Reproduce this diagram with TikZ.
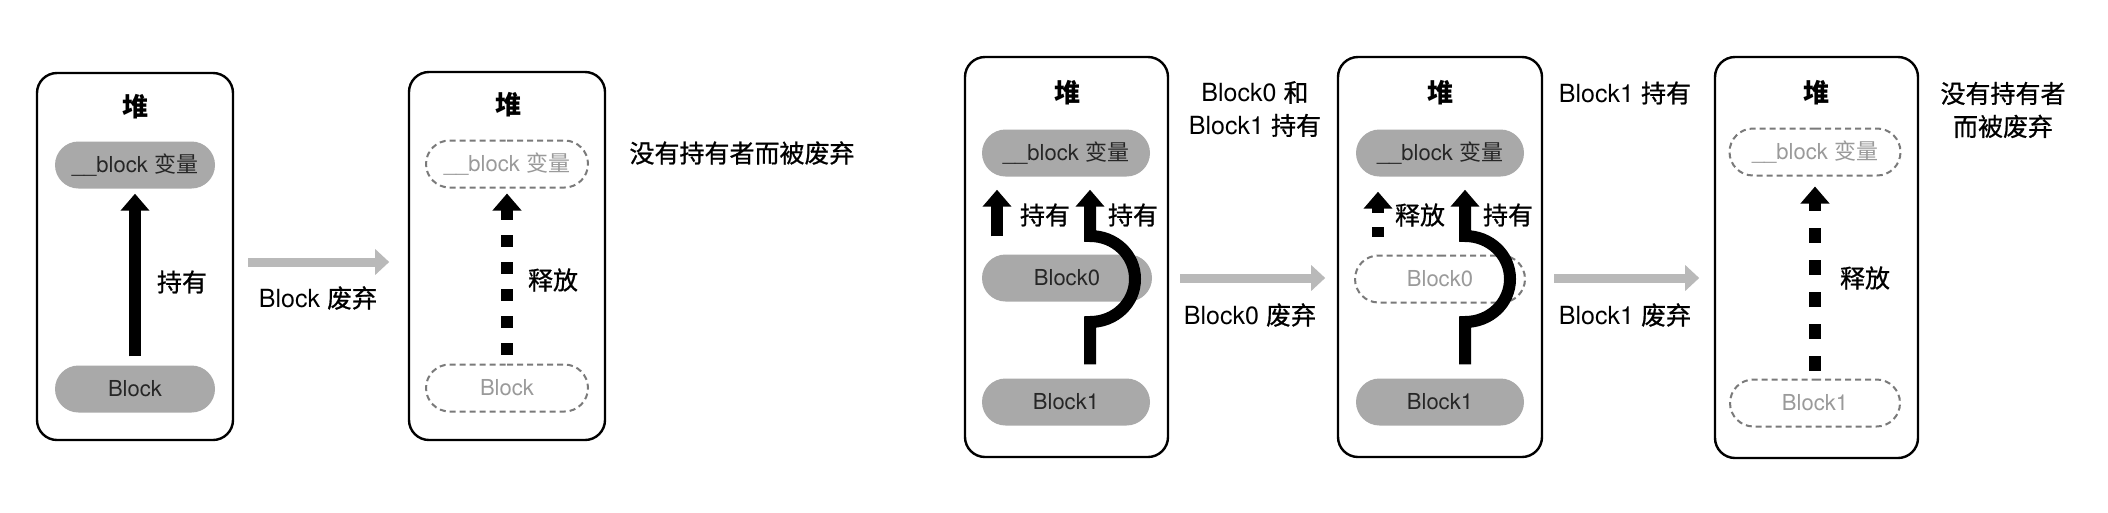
\documentclass[tikz,border=0pt]{standalone}
\usepackage{fontspec}
\setmainfont{TeX Gyre Heros}
\newfontfamily\cjk{Noto Sans CJK SC}[FakeBold=0.8]
\newfontfamily\cjkp{Noto Sans CJK SC}
\usetikzlibrary{arrows.meta,shapes.misc,calc}
\definecolor{pillgray}{HTML}{A9A9A9}
\definecolor{dashgray}{HTML}{7A7A7A}
\definecolor{fadetext}{HTML}{9A9A9A}
\definecolor{transgray}{HTML}{B9B9B9}
\tikzset{
  heap/.style={draw=black, line width=2.4pt, rounded corners=20pt, inner sep=0pt},
  pillbase/.style={rounded rectangle, minimum height=47pt, inner sep=0pt,
    font=\fontsize{22}{24}\selectfont},
  pill/.style={pillbase, fill=pillgray, text=black!85},
  ghost/.style={pillbase, draw=dashgray, line width=2pt, dash pattern=on 6pt off 4pt, text=fadetext},
  heaptitle/.style={font=\cjkp\bfseries\fontsize{26}{30}\selectfont},
  lbl/.style={font=\fontsize{25}{33}\selectfont, align=center, inner sep=0pt},
  hold/.style={draw=black, line width=12pt, line join=miter, -{Triangle[width=28pt,length=17pt]}},
  rel/.style={hold, dash pattern=on 12pt off 15pt},
  rel2/.style={hold, dash pattern=on 15pt off 17pt},
  trans/.style={draw=transgray, line width=9pt, -{Triangle[width=25pt,length=14pt]}},
}
\begin{document}
\begin{tikzpicture}[x=1pt,y=-1pt]
\useasboundingbox[fill=white] (0,0) rectangle (2108,512);

% ---------- Box 1 ----------
\node[heap, minimum width=196pt, minimum height=367pt] (h1) at (135,256.5) {};
\node[heaptitle] (t1) at (135,107) {堆};
\node[pill, minimum width=160pt] (v1) at (135,165) {\_\_block {\cjkp 变量}};
\node[pill, minimum width=160pt] (b1) at (135,389) {Block};
\draw[hold] ($(b1.north)+(0,-9)$) -- ($(v1.south)+(0,5)$);
\node[lbl] (l1) at (182,282) {\cjk 持有};

% ---------- transition 1 ----------
\draw[trans] ($(h1.east)+(14,5.5)$) -- ($(h1.east)+(155,5.5)$);
\node[lbl] (l2) at (318,298) {Block {\cjk 废弃}};

% ---------- Box 2 ----------
\node[heap, minimum width=196pt, minimum height=368pt] (h2) at (507,256) {};
\node[heaptitle] (t2) at (508,105) {堆};
\node[ghost, minimum width=162pt] (v2) at (507,164) {\_\_block {\cjkp 变量}};
\node[ghost, minimum width=162pt] (b2) at (507,388) {Block};
\draw[rel] ($(b2.north)+(0,-9)$) -- ($(v2.south)+(0,5)$);
\node[lbl] (l3) at (553,280) {\cjk 释放};
\node[lbl] (l4) at (742,153) {\cjk 没有持有者而被废弃};

% ---------- Box 3 ----------
\node[heap, minimum width=203pt, minimum height=400pt] (h3) at (1066.5,257) {};
\node[heaptitle] (t3) at (1067,93) {堆};
\node[pill, minimum width=168pt] (v3) at (1066,153) {\_\_block {\cjkp 变量}};
\node[pill, minimum width=170pt] (b30) at (1067,278) {Block0};
\node[pill, minimum width=168pt] (b31) at (1066,402) {Block1};
\draw[hold] ($(b30.north)+(-70,-18)$) -- ($(v3.south)+(-69,13)$);
\node[lbl] (l5) at (1045,215) {\cjk 持有};
\coordinate (k3) at ($(b30.center)+(23,1)$);
\draw[hold] ($(b31.north)+(24,-14)$) -- ($(k3)+(0,43)$)
  .. controls ($(k3)+(25,43)$) and ($(k3)+(45,24)$) .. ($(k3)+(45,0)$)
  .. controls ($(k3)+(45,-24)$) and ($(k3)+(25,-43)$) .. ($(k3)+(0,-43)$)
  -- ($(v3.south)+(24,13)$);
\node[lbl] (l6) at (1133,215) {\cjk 持有};
\node[lbl] (l7) at (1255,109) {Block0 {\cjk 和}\\Block1 {\cjk 持有}};

% ---------- transition 2 ----------
\draw[trans] ($(h3.east)+(11,21)$) -- ($(h3.east)+(156,21)$);
\node[lbl] (l8) at (1250,315) {Block0 {\cjk 废弃}};

% ---------- Box 4 ----------
\node[heap, minimum width=204pt, minimum height=400pt] (h4) at (1440,257) {};
\node[heaptitle] (t4) at (1440,93) {堆};
\node[pill, minimum width=168pt] (v4) at (1440,153) {\_\_block {\cjkp 变量}};
\node[ghost, minimum width=170pt] (b40) at (1440,279) {Block0};
\node[pill, minimum width=168pt] (b41) at (1440,402) {Block1};
\draw[hold, dash pattern=on 10pt off 14pt] ($(b40.north)+(-62,-18)$) -- ($(v4.south)+(-62,15)$);
\node[lbl] (l9) at (1420,215) {\cjk 释放};
\coordinate (k4) at ($(b40.center)+(25,0)$);
\draw[hold] ($(b41.north)+(25,-14)$) -- ($(k4)+(0,43)$)
  .. controls ($(k4)+(25,43)$) and ($(k4)+(45,24)$) .. ($(k4)+(45,0)$)
  .. controls ($(k4)+(45,-24)$) and ($(k4)+(25,-43)$) .. ($(k4)+(0,-43)$)
  -- ($(v4.south)+(25,13)$);
\node[lbl] (l10) at (1508,215) {\cjk 持有};
\node[lbl] (l11) at (1625,93) {Block1 {\cjk 持有}};

% ---------- transition 3 ----------
\draw[trans] ($(h4.east)+(11,21)$) -- ($(h4.east)+(156,21)$);
\node[lbl] (l12) at (1625,315) {Block1 {\cjk 废弃}};

% ---------- Box 5 ----------
\node[heap, minimum width=203pt, minimum height=401pt] (h5) at (1816.5,257.5) {};
\node[heaptitle] (t5) at (1816,93) {堆};
\node[ghost, minimum width=171pt] (v5) at (1815,152) {\_\_block {\cjkp 变量}};
\node[ghost, minimum width=170pt] (b51) at (1815,403) {Block1};
\draw[rel2] ($(b51.north)+(0,-8)$) -- ($(v5.south)+(0,10)$);
\node[lbl] (l13) at (1865,278) {\cjk 释放};
\node[lbl] (l14) at (2003,110) {{\cjk 没有持有者}\\{\cjk 而被废弃}};
\end{tikzpicture}
\end{document}
